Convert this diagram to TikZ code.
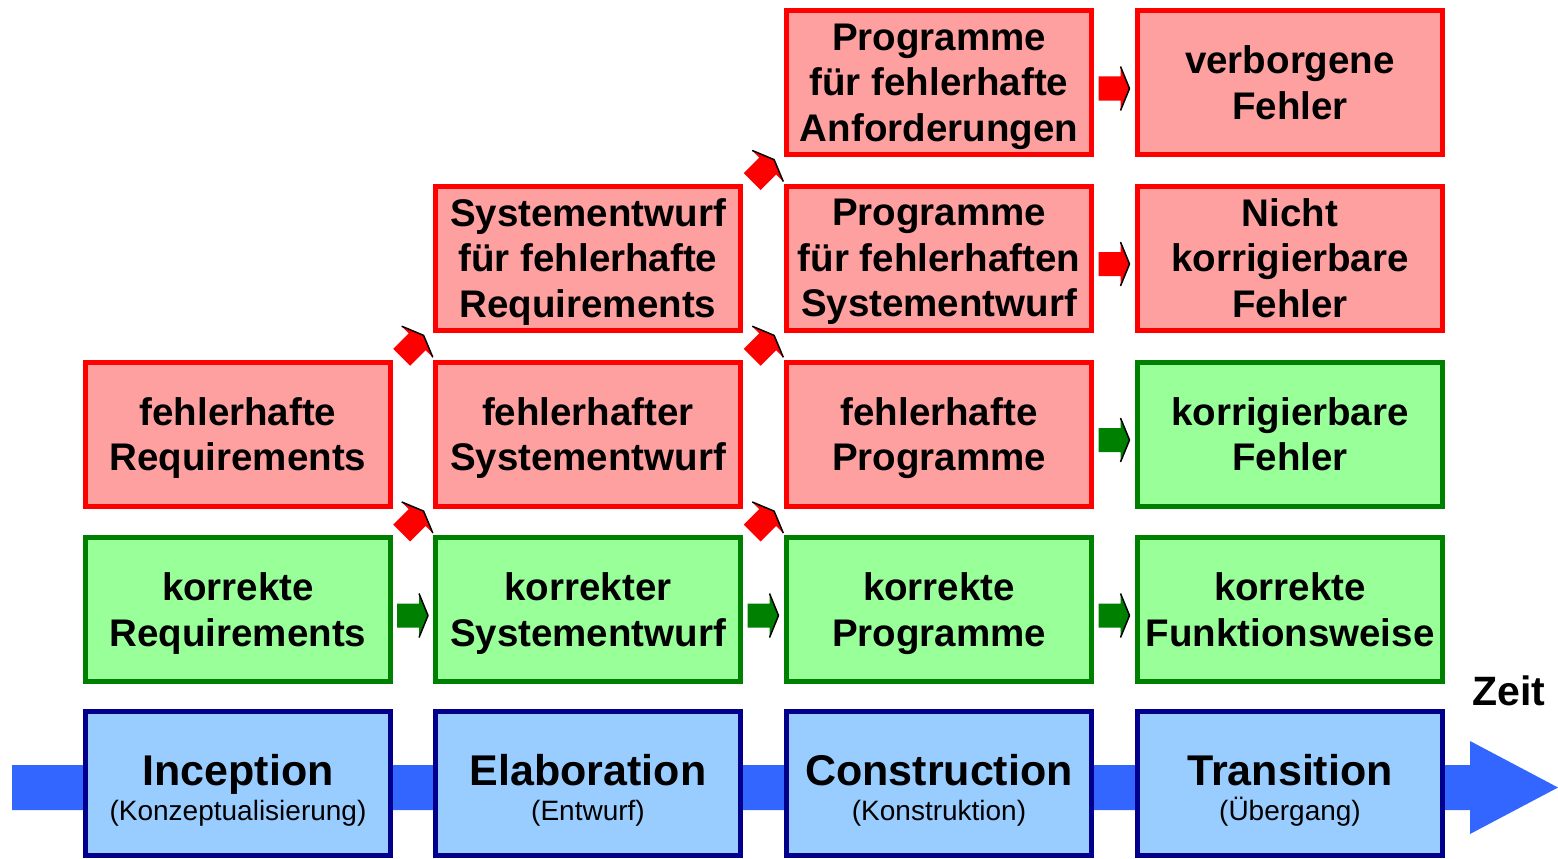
\documentclass[tikz,border=0pt]{standalone}
\usepackage{fontspec}
\setmainfont{Liberation Sans}
\usetikzlibrary{calc}
\definecolor{redB}{RGB}{255,0,0}
\definecolor{redF}{RGB}{255,160,160}
\definecolor{grnB}{RGB}{0,128,0}
\definecolor{grnF}{RGB}{153,255,153}
\definecolor{bluB}{RGB}{0,0,140}
\definecolor{bluF}{RGB}{153,204,255}
\definecolor{arrB}{RGB}{51,102,255}
\begin{document}
\begin{tikzpicture}[x=1pt,y=-1pt,
  box/.style={minimum width=305pt,minimum height=144pt,line width=5pt,align=center,inner sep=0pt,font=\fontsize{38.5}{45.5}\selectfont\bfseries,text depth=0pt},
  bad/.style={box,draw=redB,fill=redF},
  good/.style={box,draw=grnB,fill=grnF},
  phase/.style={draw=bluB,fill=bluF,minimum width=305pt,minimum height=144pt,line width=5pt,inner sep=0pt},
  phtitle/.style={anchor=base,inner sep=0pt,font=\fontsize{43}{43}\selectfont\bfseries},
  phsub/.style={anchor=base,inner sep=0pt,font=\fontsize{28}{28}\selectfont},
  barrow/.pic={
    \path[pic actions] (-16,-12) -- (6,-12) -- (6,-22) -- (15,0) -- (6,22) -- (6,12) -- (-16,12) -- cycle;
    \draw[black,line width=1.5pt,line join=round] (6,-22) -- (15,0) -- (6,22);
  }
]
\useasboundingbox (0,0) rectangle (1558,859);
% time arrow
\coordinate (tail) at (12,787.5);
\coordinate (tip) at (1558,787.5);
\fill[arrB] (tail) ++(0,-22.5) -- (1470,765) -- (1470,741) -- (tip) -- (1470,834) -- (1470,810) -- (12,810) -- cycle;
% phases
\node[phase] (ph1) at (238,783) {};
\node[phase] (ph2) at (588,783) {};
\node[phase] (ph3) at (939,783) {};
\node[phase] (ph4) at (1290,783) {};
\node[phtitle] (t1) at ($(ph1.center)+(0,2)$) {Inception};
\node[phsub] (u1) at ($(ph1.center)+(0,37)$) {(Konzeptualisierung)};
\node[phtitle] (t2) at ($(ph2.center)+(0,2)$) {Elaboration};
\node[phsub] (u2) at ($(ph2.center)+(0,37)$) {(Entwurf)};
\node[phtitle] (t3) at ($(ph3.center)+(0,2)$) {Construction};
\node[phsub] (u3) at ($(ph3.center)+(0,37)$) {(Konstruktion)};
\node[phtitle] (t4) at ($(ph4.center)+(0,2)$) {Transition};
\node[phsub] (u4) at ($(ph4.center)+(0,37)$) {(Übergang)};
\node[anchor=base,inner sep=0pt,font=\fontsize{41}{41}\selectfont\bfseries] (zeit) at (1509,705) {Zeit};
% row 4
\node[good] (k1) at (238,609.5) {korrekte\\Requirements};
\node[good] (k2) at (588,609.5) {korrekter\\Systementwurf};
\node[good] (k3) at (939,609.5) {korrekte\\Programme};
\node[good] (k4) at (1290,609.5) {korrekte\\Funktionsweise};
% row 3
\node[bad] (f1) at (238,434) {fehlerhafte\\Requirements};
\node[bad] (f2) at (588,434) {fehlerhafter\\Systementwurf};
\node[bad] (f3) at (939,434) {fehlerhafte\\Programme};
\node[good] (f4) at (1290,434) {korrigierbare\\Fehler};
% row 2
\node[bad] (s2) at (588,258) {Systementwurf\\für fehlerhafte\\Requirements};
\node[bad] (s3) at (939,258) {Programme\\für fehlerhaften\\Systementwurf};
\node[bad] (s4) at (1290,258) {Nicht\\korrigierbare\\Fehler};
% row 1
\node[bad] (p3) at (939,82.5) {Programme\\für fehlerhafte\\Anforderungen};
\node[bad] (p4) at (1290,82.5) {verborgene\\Fehler};
% horizontal arrows
\pic[fill=grnB] at ($($(k1.east)!0.5!(k2.west)$)+(0,6)$) {barrow};
\pic[fill=grnB] at ($($(k2.east)!0.5!(k3.west)$)+(0,6)$) {barrow};
\pic[fill=grnB] at ($($(k3.east)!0.5!(k4.west)$)+(0,6)$) {barrow};
\pic[fill=grnB] at ($($(f3.east)!0.5!(f4.west)$)+(0,6)$) {barrow};
\pic[fill=redB] at ($($(s3.east)!0.5!(s4.west)$)+(0,6)$) {barrow};
\pic[fill=redB] at ($($(p3.east)!0.5!(p4.west)$)+(0,6)$) {barrow};
% diagonal arrows
\pic[fill=redB,rotate=45] at ($(k1.north east)!0.5!(f2.south west)$) {barrow};
\pic[fill=redB,rotate=45] at ($(f1.north east)!0.5!(s2.south west)$) {barrow};
\pic[fill=redB,rotate=45] at ($(k2.north east)!0.5!(f3.south west)$) {barrow};
\pic[fill=redB,rotate=45] at ($(f2.north east)!0.5!(s3.south west)$) {barrow};
\pic[fill=redB,rotate=45] at ($(s2.north east)!0.5!(p3.south west)$) {barrow};
\end{tikzpicture}
\end{document}
